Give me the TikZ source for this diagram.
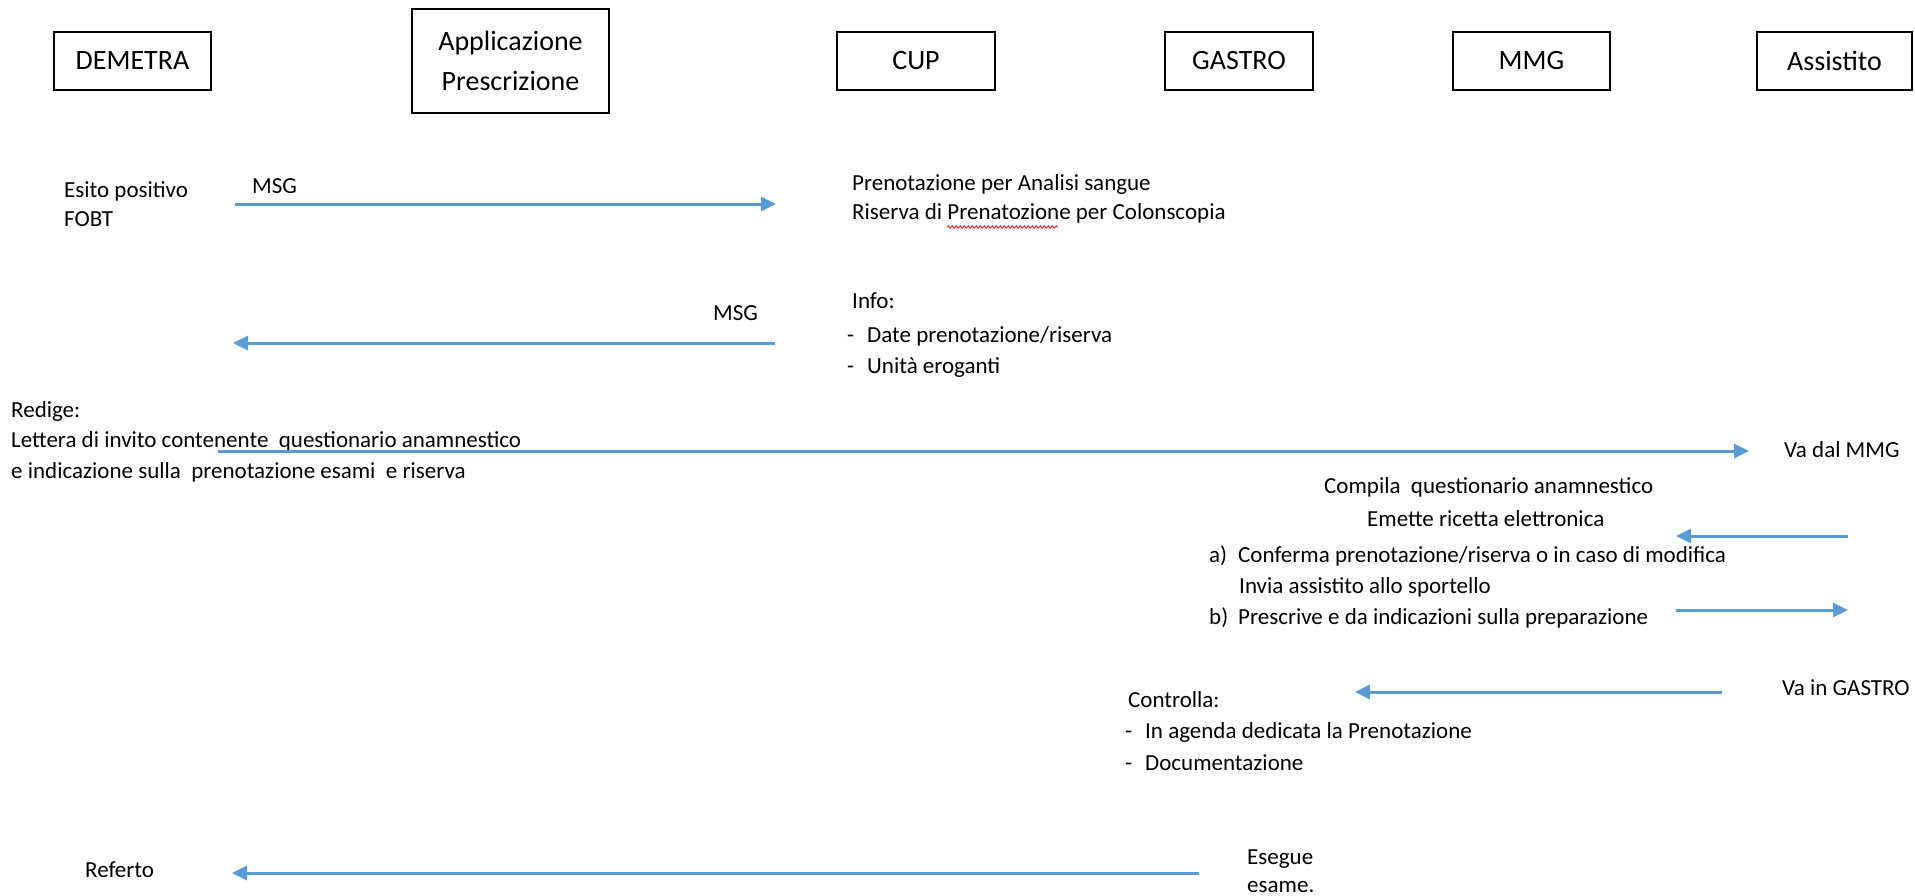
\documentclass[tikz,border=0pt]{standalone}
\usepackage{fontspec}
\setmainfont{Carlito}
\usetikzlibrary{arrows.meta,decorations.pathmorphing}
\definecolor{arrowblue}{RGB}{91,155,213}
\definecolor{squigred}{RGB}{225,35,35}
\newcommand\bodyfont{\fontsize{23}{30}\selectfont}
\newcommand\labfont{\fontsize{28}{40}\selectfont}
\begin{document}
\begin{tikzpicture}[x=1pt,y=-1pt,
  lane/.style={draw=black,line width=2pt,inner sep=0pt,font=\labfont,align=center},
  txt/.style={inner sep=0pt,anchor=base west,font=\bodyfont},
  msg/.style={draw=arrowblue,line width=3pt,-{Triangle[length=15pt,width=14pt]}},
]
\useasboundingbox (0,0) rectangle (1915,895);

% lanes
\node[lane,minimum width=157pt,minimum height=58pt] (demetra) at (132.5,61) {DEMETRA};
\node[lane,minimum width=197pt,minimum height=104pt] (app) at (510.5,61) {Applicazione\\Prescrizione};
\node[lane,minimum width=158pt,minimum height=58pt] (cup) at (916,61) {CUP};
\node[lane,minimum width=148pt,minimum height=58pt] (gastro) at (1239,61) {GASTRO};
\node[lane,minimum width=157pt,minimum height=58pt] (mmg) at (1531.5,61) {MMG};
\node[lane,minimum width=155pt,minimum height=58pt] (assistito) at (1834.5,61) {Assistito};

% texts
\node[txt] (esito1) at (64,197) {Esito positivo};
\node[txt] (esito2) at (64,226) {FOBT};
\node[txt] (msg1) at (252,193) {MSG};
\node[txt] (pren1) at (852,190) {Prenotazione per Analisi sangue};
\node[txt] (pren2) at (852,219) {Riserva di Prenatozione per Colonscopia};
\node[txt] (msg2) at (713,320) {MSG};
\node[txt] (info0) at (852,308) {Info:};
\node[txt] (info1) at (847,342) {\makebox[20pt][l]{-}Date prenotazione/riserva};
\node[txt] (info2) at (847,373) {\makebox[20pt][l]{-}Unità eroganti};
\node[txt] (red0) at (11,417) {Redige:};
\node[txt] (red1) at (11,447) {Lettera di invito contenente\ \ questionario anamnestico};
\node[txt] (red2) at (11,478) {e indicazione sulla\ \ prenotazione esami\ \ e riserva};
\node[txt] (vammg) at (1784,457) {Va dal MMG};
\node[txt] (comp1) at (1324,493) {Compila\ \ questionario anamnestico};
\node[txt] (comp2) at (1367,526) {Emette ricetta elettronica};
\node[txt] (conf1) at (1209,562) {\makebox[29pt][l]{a)}Conferma prenotazione/riserva o in caso di modifica};
\node[txt] (conf2) at (1239,593) {Invia assistito allo sportello};
\node[txt] (conf3) at (1209,624) {\makebox[29pt][l]{b)}Prescrive e da indicazioni sulla preparazione};
\node[txt] (vagastro) at (1782,695) {Va in GASTRO};
\node[txt] (ctrl0) at (1128,707) {Controlla:};
\node[txt] (ctrl1) at (1125,738) {\makebox[20pt][l]{-}In agenda dedicata la Prenotazione};
\node[txt] (ctrl2) at (1125,770) {\makebox[20pt][l]{-}Documentazione};
\node[txt] (eseg1) at (1247,864) {Esegue};
\node[txt] (eseg2) at (1247,892) {esame.};
\node[txt] (referto) at (85,877) {Referto};

% spell-check underline
\coordinate (sq1) at (947,227);
\coordinate (sq2) at (1058,227);
\draw[squigred,line width=0.9pt,decorate,decoration={snake,amplitude=1.3pt,segment length=4pt}] (sq1) -- (sq2);

% arrow end points
\coordinate (a1s) at (235,204);  \coordinate (a1e) at (776,204);
\coordinate (a2s) at (775,343);  \coordinate (a2e) at (233,343);
\coordinate (a3s) at (218,451);  \coordinate (a3e) at (1749,451);
\coordinate (a4s) at (1848,536); \coordinate (a4e) at (1676,536);
\coordinate (a5s) at (1676,610); \coordinate (a5e) at (1848,610);
\coordinate (a6s) at (1722,692); \coordinate (a6e) at (1355,692);
\coordinate (a7s) at (1199,873); \coordinate (a7e) at (232,873);

\draw[msg] (a1s) -- (a1e);
\draw[msg] (a2s) -- (a2e);
\draw[msg] (a3s) -- (a3e);
\draw[msg] (a4s) -- (a4e);
\draw[msg] (a5s) -- (a5e);
\draw[msg] (a6s) -- (a6e);
\draw[msg] (a7s) -- (a7e);
\end{tikzpicture}
\end{document}
